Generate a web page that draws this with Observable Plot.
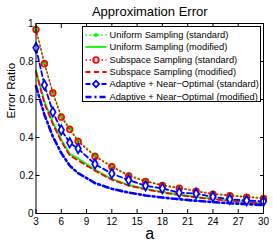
<!DOCTYPE html>
<html><head><meta charset="utf-8">
<script src="https://cdn.jsdelivr.net/npm/d3@7"></script>
<script src="https://cdn.jsdelivr.net/npm/@observablehq/plot@0.6"></script>
<style>
body{margin:0;background:#fff;}
#wrap{position:relative;width:273px;height:245px;font-family:"Liberation Sans",Arial,Helvetica,sans-serif;}
#legend{position:absolute;left:81.5px;top:26px;width:179px;height:76px;border:1px solid #000;background:#fff;box-sizing:border-box;}
.row{position:absolute;left:2px;height:12px;display:flex;align-items:center;font-size:9.3px;white-space:nowrap;color:#000;}
.row svg{display:block;margin-right:3px;}
</style></head><body><div id="wrap"></div>
<script>
const aValues = [3,4,5,6,7,8,10,12,14,16,18,20,22,24,26,28,30];
const uniformStandard  = [0.972,0.795,0.640,0.515,0.450,0.385,0.306,0.250,0.203,0.173,0.151,0.137,0.121,0.105,0.098,0.090,0.083];
const uniformModified  = [0.753,0.590,0.480,0.390,0.314,0.290,0.232,0.182,0.150,0.130,0.114,0.100,0.088,0.078,0.068,0.060,0.055];
const subspaceStandard = [0.968,0.788,0.634,0.507,0.443,0.379,0.300,0.246,0.198,0.169,0.147,0.133,0.117,0.101,0.094,0.086,0.079];
const subspaceModified = [0.745,0.580,0.470,0.380,0.306,0.280,0.225,0.178,0.147,0.127,0.111,0.097,0.085,0.075,0.066,0.058,0.053];
const adaptiveStandard = [0.872,0.676,0.534,0.440,0.372,0.342,0.260,0.210,0.176,0.146,0.132,0.110,0.104,0.088,0.075,0.068,0.064];
const adaptiveModified = [0.670,0.520,0.405,0.318,0.252,0.212,0.160,0.130,0.110,0.095,0.084,0.075,0.067,0.060,0.054,0.049,0.045];
const xTicks = [3,6,9,12,15,18,21,24,27,30];
const yTicks = [0,0.2,0.4,0.6,0.8,1];
const titleText = "Approximation Error";
const xLabel = "a";
const yLabel = "Error Ratio";

const series = [
  {name:"Uniform Sampling (standard)", values:uniformStandard, color:"#00ff00", dash:"1.5,2.5", width:1.3, marker:"dot"},
  {name:"Uniform Sampling (modified)", values:uniformModified, color:"#00ff00", dash:null, width:1.8, marker:null},
  {name:"Subspace Sampling (standard)", values:subspaceStandard, color:"#ff0000", dash:"1.5,2.5", width:1.3, marker:"circle"},
  {name:"Subspace Sampling (modified)", values:subspaceModified, color:"#ff0000", dash:"5,3.5", width:1.8, marker:null},
  {name:"Adaptive + Near\u2212Optimal (standard)", values:adaptiveStandard, color:"#0000ff", dash:"5,3", width:1.8, marker:"diamond"},
  {name:"Adaptive + Near\u2212Optimal (modified)", values:adaptiveModified, color:"#0000ff", dash:"6,3,2,3", width:2.6, marker:null}
];

const marks = [];
for (const s of series) {
  const data = aValues.map((a,i)=>({a, v:s.values[i]}));
  marks.push(Plot.line(data, {x:"a", y:"v", stroke:s.color, strokeWidth:s.width, strokeDasharray:s.dash}));
  if (s.marker === "dot") marks.push(Plot.dot(data, {x:"a", y:"v", r:2, fill:s.color, stroke:s.color}));
  if (s.marker === "circle") marks.push(Plot.dot(data, {x:"a", y:"v", r:2.9, fill:"none", stroke:s.color, strokeWidth:1.6}));
  if (s.marker === "diamond") marks.push(Plot.dot(data, {x:"a", y:"v", symbol:"diamond", r:2.9, fill:"white", stroke:s.color, strokeWidth:1.7}));
}

const yFmt = d => String(+d.toFixed(1));
const chart = Plot.plot({
  width:273, height:245,
  marginLeft:35.5, marginRight:10, marginTop:23, marginBottom:32,
  style:{fontFamily:'"Liberation Sans",Arial,Helvetica,sans-serif', fontSize:"10px", background:"white", overflow:"visible"},
  x:{domain:[3,30]},
  y:{domain:[0,1]},
  marks:[
    ...marks,
    Plot.frame({stroke:"black"}),
    Plot.axisX(xTicks, {anchor:"bottom", tickSize:-4, tickPadding:8, label:null, fontSize:10}),
    Plot.axisX(xTicks, {anchor:"top", tickSize:-4, tickFormat:()=>"", label:null}),
    Plot.axisY(yTicks, {anchor:"left", tickSize:-4, tickPadding:6.5, tickFormat:yFmt, label:null, fontSize:10}),
    Plot.axisY(yTicks, {anchor:"right", tickSize:-4, tickFormat:()=>"", label:null}),
    Plot.text([titleText], {frameAnchor:"top", lineAnchor:"middle", dy:-12, fontSize:13, text:d=>d}),
    Plot.text([xLabel], {frameAnchor:"bottom", lineAnchor:"middle", dy:20, fontSize:16, text:d=>d}),
    Plot.text([yLabel], {frameAnchor:"left", lineAnchor:"middle", dx:-25, rotate:-90, fontSize:11.5, text:d=>d})
  ]
});
const wrap = document.getElementById("wrap");
wrap.appendChild(chart);

const legend = document.createElement("div");
legend.id = "legend";
wrap.appendChild(legend);
series.forEach((s,i)=>{
  const row = document.createElement("div");
  row.className = "row";
  row.style.top = (1.8 + i*12.4) + "px";
  const svg = d3.create("svg").attr("width",22).attr("height",12);
  svg.append("line").attr("x1",0.5).attr("x2",21.5).attr("y1",6).attr("y2",6)
    .attr("stroke",s.color).attr("stroke-width",s.width).attr("stroke-dasharray",s.dash);
  if (s.marker==="dot") svg.append("circle").attr("cx",11).attr("cy",6).attr("r",2).attr("fill",s.color);
  if (s.marker==="circle") svg.append("circle").attr("cx",11).attr("cy",6).attr("r",2.9).attr("fill","none").attr("stroke",s.color).attr("stroke-width",1.6);
  if (s.marker==="diamond") svg.append("path").attr("d",d3.symbol(d3.symbolDiamond2, 26)()).attr("transform","translate(11,6)").attr("fill","white").attr("stroke",s.color).attr("stroke-width",1.7);
  row.appendChild(svg.node());
  const span = document.createElement("span");
  span.textContent = s.name;
  row.appendChild(span);
  legend.appendChild(row);
});
</script>
</body></html>
